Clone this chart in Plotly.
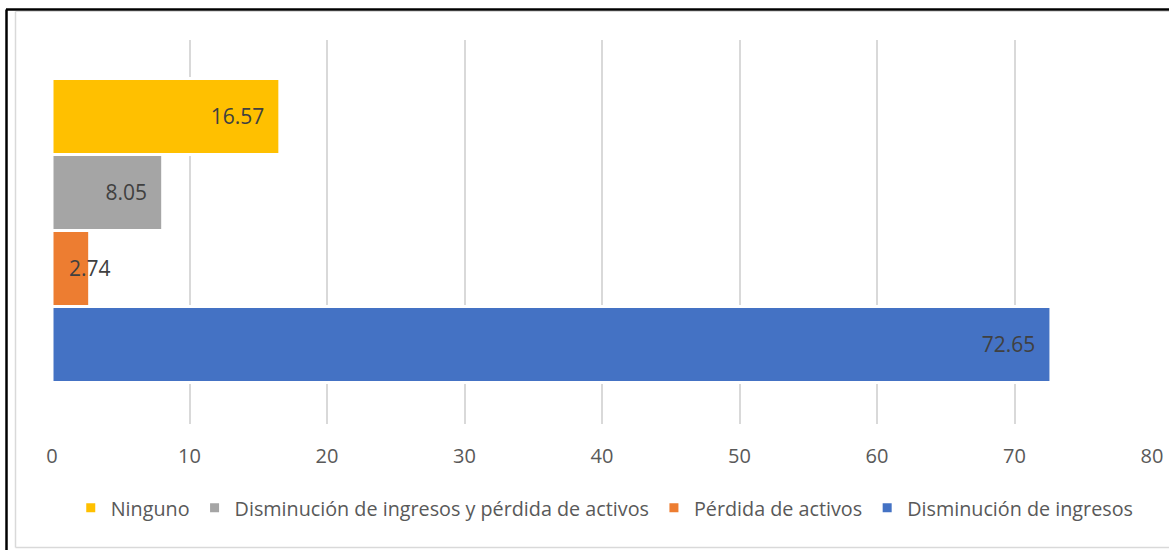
import plotly.graph_objects as go

categories = ["Disminución de ingresos", "Pérdida de activos",
              "Disminución de ingresos y pérdida de activos", "Ninguno"]
values = [72.65, 2.74, 8.05, 16.57]
colors = ["#4472C4", "#ED7D31", "#A5A5A5", "#FFC000"]
x_ticks = [0, 10, 20, 30, 40, 50, 60, 70, 80]

FONT = "Open Sans, Liberation Sans, Arial, sans-serif"
LABEL_FONT = dict(family=FONT, size=21, color="#404040")

fig = go.Figure()
annotations = []
for name, v, c in zip(categories, values, colors):
    small = v < 5
    fig.add_trace(go.Bar(
        y=[name], x=[v], name=name, orientation="h", width=1,
        marker=dict(color=c, line=dict(color="white", width=3)),
        text=None if small else [f"{v:.2f}"],
        texttemplate=None if small else "%{text}\u2002\u200a",
        textposition="inside", insidetextanchor="end", constraintext="none",
        textangle=0, textfont=LABEL_FONT,
        cliponaxis=False, hoverinfo="x+name",
    ))
    if small:
        annotations.append(dict(x=v, y=name, xref="x", yref="y", text=f"{v:.2f}",
                                showarrow=False, xanchor="center", yanchor="middle",
                                font=LABEL_FONT))

W, H = 1169, 550
L, R, T, B = 52, 17, 40, 126
pw, ph = W - L - R, H - T - B

def px(x):
    return (x - L) / pw

def py(y):
    return (H - B - y) / ph

span = ph / 76.0
shapes = [
    dict(type="line", xref="paper", yref="paper", x0=px(6.5), x1=px(6.5), y0=py(9.5), y1=py(550), line=dict(color="black", width=2.5)),
    dict(type="line", xref="paper", yref="paper", x0=px(6), x1=px(1169), y0=py(9.5), y1=py(9.5), line=dict(color="black", width=2.5)),
    dict(type="line", xref="paper", yref="paper", x0=px(15.5), x1=px(15.5), y0=py(11.5), y1=py(547.5), line=dict(color="#D9D9D9", width=1.5)),
    dict(type="line", xref="paper", yref="paper", x0=px(15.5), x1=px(1169), y0=py(547.5), y1=py(547.5), line=dict(color="#D9D9D9", width=1.5)),
    dict(type="line", xref="paper", yref="paper", x0=px(15.5), x1=px(1169), y0=py(11.5), y1=py(11.5), line=dict(color="#D9D9D9", width=1)),
]

fig.update_layout(
    width=W, height=H,
    margin=dict(l=L, r=R, t=T, b=B, autoexpand=False),
    paper_bgcolor="white", plot_bgcolor="white",
    barmode="overlay",
    font=dict(family=FONT, size=20, color="#595959"),
    xaxis=dict(range=[0, 80], tickvals=x_ticks, showgrid=True, gridcolor="#D9D9D9",
               gridwidth=1.5, zeroline=False, showline=False, ticks="",
               tickfont=dict(size=20, color="#595959"), ticklabelstandoff=18),
    yaxis=dict(showticklabels=False, showgrid=False, zeroline=False, showline=False,
               categoryorder="array", categoryarray=categories,
               range=[1.5 - span / 2 - 0.02, 1.5 + span / 2 - 0.02]),
    legend=dict(orientation="h", traceorder="reversed", x=0.5025, xanchor="center",
                y=py(508), yanchor="middle", font=dict(size=19.75, color="#595959"),
                itemwidth=30, tracegroupgap=0),
    shapes=shapes,
    annotations=annotations,
    showlegend=True,
)

fig.write_html("out.html", config={"displayModeBar": False},
               post_script="document.body.style.margin='0';document.body.style.overflow='hidden';")
